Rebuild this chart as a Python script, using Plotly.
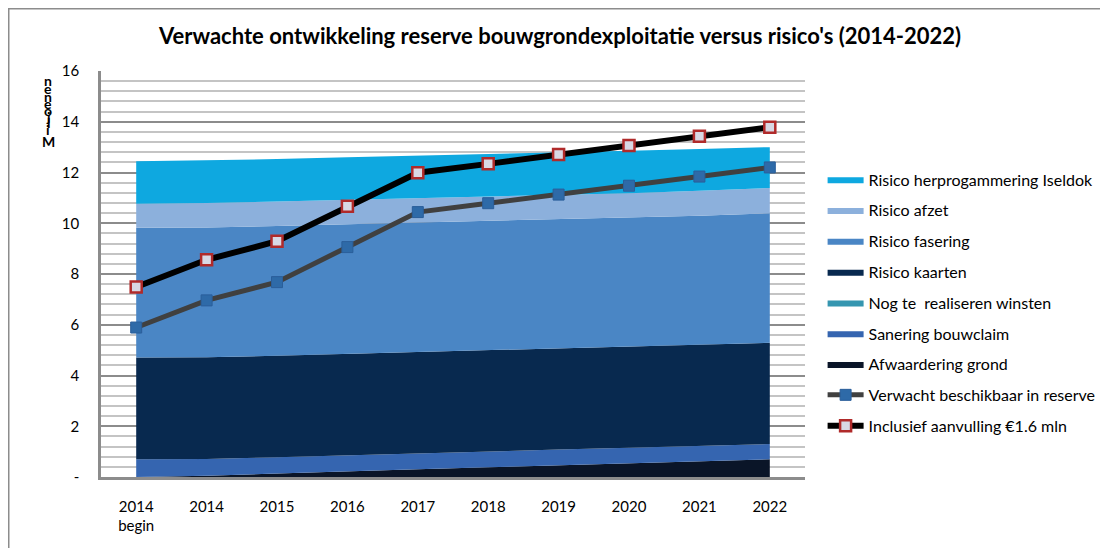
import plotly.graph_objects as go

# ---- data ----
x_idx = [0, 1, 2, 3, 4, 5, 6, 7, 8, 9]
tick_labels = ["2014<br>begin", "2014", "2015", "2016", "2017", "2018", "2019", "2020", "2021", "2022"]

afwaardering_grond = [0.00, 0.05, 0.14, 0.23, 0.31, 0.38, 0.46, 0.53, 0.62, 0.70]
sanering_bouwclaim = [0.70, 0.66, 0.64, 0.63, 0.62, 0.62, 0.62, 0.62, 0.60, 0.60]
nog_te_realiseren = [0, 0, 0, 0, 0, 0, 0, 0, 0, 0]
risico_kaarten = [4.01, 4.01, 4.00, 3.99, 3.99, 3.99, 3.99, 3.99, 3.99, 3.99]
risico_fasering = [5.11, 5.11, 5.11, 5.11, 5.11, 5.10, 5.08, 5.08, 5.09, 5.10]
risico_afzet = [0.95, 0.97, 0.97, 0.96, 0.95, 0.95, 0.95, 0.96, 0.98, 1.00]
risico_herprog = [1.67, 1.67, 1.67, 1.68, 1.68, 1.68, 1.69, 1.68, 1.65, 1.61]

verwacht_reserve = [5.89, 6.96, 7.68, 9.06, 10.44, 10.79, 11.13, 11.48, 11.84, 12.20]
inclusief_aanvulling = [7.49, 8.56, 9.29, 10.67, 11.99, 12.34, 12.71, 13.06, 13.43, 13.78]

y_tickvals = [0, 2, 4, 6, 8, 10, 12, 14, 16]
y_ticktext = ["-", "2", "4", "6", "8", "10", "12", "14", "16"]

title_text = "Verwachte ontwikkeling reserve bouwgrondexploitatie versus risico's (2014-2022)"
y_title_letters = ["n", "e", "n", "e", "o", "j", "l", "i", "M"]

FONT = "Lato, 'DejaVu Sans', sans-serif"

# page body has an 8px margin: figure coordinates = screen - 8
W, H = 1100, 540
L, R, T, B = 93, 303, 63, 71
PW, PH = W - L - R, H - T - B

areas = [
    ("Afwaardering grond", afwaardering_grond, "#0a1528", 7),
    ("Sanering bouwclaim", sanering_bouwclaim, "#3565b0", 6),
    ("Nog te  realiseren winsten", nog_te_realiseren, "#3596b0", 5),
    ("Risico kaarten", risico_kaarten, "#08294f", 4),
    ("Risico fasering", risico_fasering, "#4a86c5", 3),
    ("Risico afzet", risico_afzet, "#8cb0dc", 2),
    ("Risico herprogammering Iseldok", risico_herprog, "#0ea8e0", 1),
]

fig = go.Figure()
for name, vals, color, rank in areas:
    fig.add_trace(go.Scatter(
        x=x_idx, y=vals, name=name, mode="lines", stackgroup="risk",
        line=dict(width=0, color=color), fillcolor=color,
        legendrank=rank, legendgroup=name, hoverinfo="skip",
    ))

fig.add_trace(go.Scatter(
    x=x_idx, y=verwacht_reserve, name="Verwacht beschikbaar in reserve",
    mode="lines+markers", line=dict(color="#404040", width=5),
    marker=dict(symbol="square", size=11, color="#2e6aa8", line=dict(color="#2a5e9a", width=1)),
    legendrank=8, legendgroup="v",
))
fig.add_trace(go.Scatter(
    x=x_idx, y=inclusief_aanvulling, name="Inclusief aanvulling €1.6 mln",
    mode="lines+markers", line=dict(color="#000000", width=6),
    marker=dict(symbol="square", size=11, color="#d8d8e4", line=dict(color="#b02a2a", width=2.5)),
    legendrank=9, legendgroup="i",
))

def px_x(sx):
    return (sx - 8 - L) / PW

def px_y(sy):
    return (H - B - (sy - 8)) / PH

# y-axis title as stacked upright letters (as in the reference)
y_pos = [80, 89, 96, 103, 110, 117, 123, 129, 141]
for letter, yp in zip(y_title_letters, y_pos):
    fig.add_annotation(
        text=letter, xref="paper", yref="paper",
        x=px_x(48), y=px_y(yp),
        showarrow=False, xanchor="center", yanchor="middle",
        font=dict(family=FONT, size=14, color="#000000", weight="bold"),
    )

# outer frame
fig.add_shape(type="rect", xref="paper", yref="paper",
              x0=(0.75 - L) / PW, x1=(W + 40 - L) / PW,
              y0=-0.5, y1=(H - B - 0.75) / PH,
              line=dict(color="#8c8c8c", width=1.5), fillcolor="rgba(0,0,0,0)", layer="below")

fig.update_layout(
    width=W, height=H,
    margin=dict(l=L, r=R, t=T, b=B, autoexpand=False),
    paper_bgcolor="white", plot_bgcolor="white",
    title=dict(text=title_text, x=552 / W, xanchor="center", y=1 - 28 / H, yanchor="middle",
               font=dict(family=FONT, size=22, color="#000000", weight="bold")),
    font=dict(family=FONT, size=15, color="#000000"),
    showlegend=True,
    legend=dict(x=1.025, y=0.775, xanchor="left", yanchor="top",
                font=dict(family=FONT, size=16, color="#000000"),
                tracegroupgap=7, bgcolor="rgba(0,0,0,0)", itemwidth=36),
    hovermode=False,
)

fig.update_xaxes(
    range=[-0.5, 9.5], tickmode="array", tickvals=x_idx, ticktext=tick_labels,
    showgrid=False, zeroline=False, showline=True, linecolor="#8c8c8c", linewidth=2.5,
    ticks="", ticklabelstandoff=14, tickfont=dict(family=FONT, size=15, color="#000000"),
)
fig.update_yaxes(
    range=[0, 16], tickmode="array", tickvals=y_tickvals, ticktext=y_ticktext,
    showgrid=True, gridcolor="#8c8c8c", gridwidth=2,
    minor=dict(dtick=0.4, tick0=0, showgrid=True, gridcolor="#c4c4c4", gridwidth=2),
    zeroline=False, showline=True, linecolor="#8c8c8c", linewidth=2.5,
    ticks="", ticklabelstandoff=16, tickfont=dict(family=FONT, size=15, color="#000000"),
)

fig.write_html("out.html")
